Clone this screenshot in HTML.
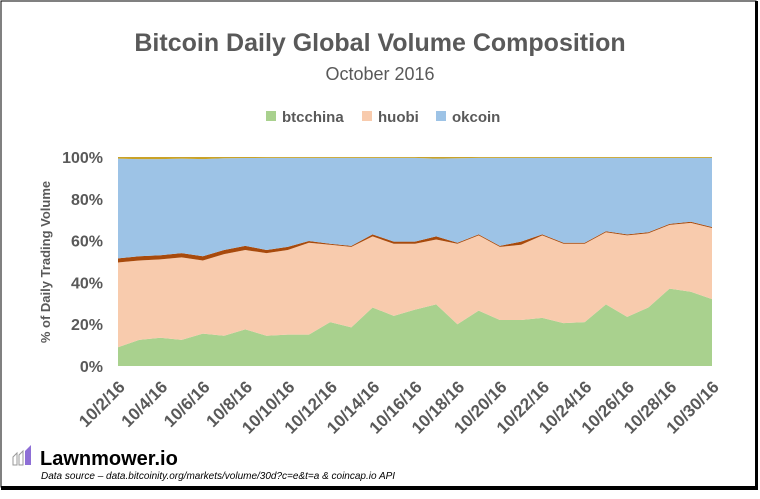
<!DOCTYPE html>
<html><head><meta charset="utf-8"><style>
body{margin:0;background:#fff;font-family:"Liberation Sans",sans-serif}
#wrap{position:relative;width:760px;height:499px;overflow:hidden}
</style></head><body>
<div id="wrap">
<svg id="chart" width="760" height="499" xmlns="http://www.w3.org/2000/svg">
<rect x="1" y="1" width="755" height="486" fill="#fff" stroke="#000" stroke-width="1"/>
<rect x="755" y="1" width="3" height="489" fill="#000"/>
<rect x="1" y="486" width="757" height="4" fill="#000"/>
<text x="380" y="51" text-anchor="middle" font-size="25" font-weight="bold" fill="#595959">Bitcoin Daily Global Volume Composition</text>
<text x="380" y="80" text-anchor="middle" font-size="18" fill="#595959">October 2016</text>
<g id="legend" font-size="15" font-weight="bold" fill="#595959">
<rect x="266" y="111" width="10" height="10" fill="#a9d18e"/>
<text x="282" y="122">btcchina</text>
<rect x="362" y="111" width="10" height="10" fill="#f8cbad"/>
<text x="378" y="122">huobi</text>
<rect x="436" y="111" width="10" height="10" fill="#9dc3e6"/>
<text x="452" y="122">okcoin</text>
</g>
<text transform="translate(50,262) rotate(-90)" text-anchor="middle" font-size="13" font-weight="bold" fill="#595959">% of Daily Trading Volume</text>
<g id="areas"></g>
<g id="yticks"></g>
<g id="xticks"></g>
<g>
<path d="M13 465 L13 457 L17 453 L17 465 Z M19 465 L19 455 L23 451 L23 465 Z" fill="none" stroke="#999" stroke-width="1"/>
<path d="M25 465 L25 451 L31 445 L31 465 Z" fill="#8e6fd6"/>
</g>
<text x="40" y="465" font-size="20" font-weight="bold" fill="#000">Lawnmower.io</text>
<text x="41" y="479" font-size="10" font-style="italic" fill="#000">Data source – data.bitcoinity.org/markets/volume/30d?c=e&amp;t=a &amp; coincap.io API</text>
</svg>
</div>
<script>
const dates=["10/2/16","10/3/16","10/4/16","10/5/16","10/6/16","10/7/16","10/8/16","10/9/16","10/10/16","10/11/16","10/12/16","10/13/16","10/14/16","10/15/16","10/16/16","10/17/16","10/18/16","10/19/16","10/20/16","10/21/16","10/22/16","10/23/16","10/24/16","10/25/16","10/26/16","10/27/16","10/28/16","10/29/16","10/30/16"];
const btcchina=[9,12.5,13.5,12.5,15.5,14.5,17.5,14.5,15,15,21,18.5,28,24,27,29.5,20,26.5,22,22,23,20.5,21,29.5,23.5,28,37,35.5,32];
const huobi=[40.5,38,37.5,39.5,35,39,38,39.5,40.5,44,37,38.5,34,34.5,31.5,31,38.5,36,35,36,39.5,38,37.5,34.5,39,35.5,30.5,33,34];
const other=[2,2,2,2,2,2,2,1.5,1.5,0.8,0.5,0.5,1,1,1,1.5,0.5,0.5,0.5,1.5,0.5,0.5,0.5,0.5,0.5,0.5,0.5,0.5,0.5];
const misc=[0.8,1,1,0.8,1,0.6,0.5,0.4,0.4,0.4,0.4,0.4,0.4,0.4,0.4,0.8,0.6,0.4,0.4,0.4,0.4,0.4,0.4,0.4,0.4,0.4,0.4,0.4,0.4];
const yTicks=[0,20,40,60,80,100];
const NS="http://www.w3.org/2000/svg";
const x0=118,x1=712,yTop=157,yBot=366;
const xs=i=>x0+(x1-x0)*i/(dates.length-1);
const ys=v=>yBot-(yBot-yTop)*v/100;
const okcoin=dates.map((d,i)=>100-btcchina[i]-huobi[i]-other[i]-misc[i]);
const series=[["btcchina",btcchina,"#a9d18e"],["huobi",huobi,"#f8cbad"],["other",other,"#a84a0c"],["okcoin",okcoin,"#9dc3e6"],["misc",misc,"#c9a227"]];
const areas=document.getElementById('areas');
let base=dates.map(()=>0);
series.forEach(([name,vals,col])=>{
  const top=base.map((b,i)=>b+vals[i]);
  let d="M"+top.map((v,i)=>xs(i)+","+ys(v)).join(" L");
  for(let i=dates.length-1;i>=0;i--) d+=" L"+xs(i)+","+ys(base[i]);
  const p=document.createElementNS(NS,'path');
  p.setAttribute('d',d+"Z");p.setAttribute('fill',col);
  
  
  areas.appendChild(p);
  base=top;
});
const yt=document.getElementById('yticks');
yTicks.forEach(v=>{
  const t=document.createElementNS(NS,'text');
  t.setAttribute('x',103);t.setAttribute('y',ys(v)+6);
  t.setAttribute('text-anchor','end');t.setAttribute('font-size','16');
  t.setAttribute('font-weight','bold');t.setAttribute('fill','#595959');
  t.textContent=v+"%";
  
  
  yt.appendChild(t);
});
const xt=document.getElementById('xticks');
dates.forEach((d,i)=>{
  if(i%2) return;
  const t=document.createElementNS(NS,'text');
  const x=xs(i)+8,y=388;
  t.setAttribute('transform','translate('+x+','+y+') rotate(-45)');
  t.setAttribute('text-anchor','end');t.setAttribute('font-size','17');
  t.setAttribute('font-weight','bold');t.setAttribute('fill','#595959');
  t.textContent=d;
  
  
  xt.appendChild(t);
});
</script>
</body></html>
